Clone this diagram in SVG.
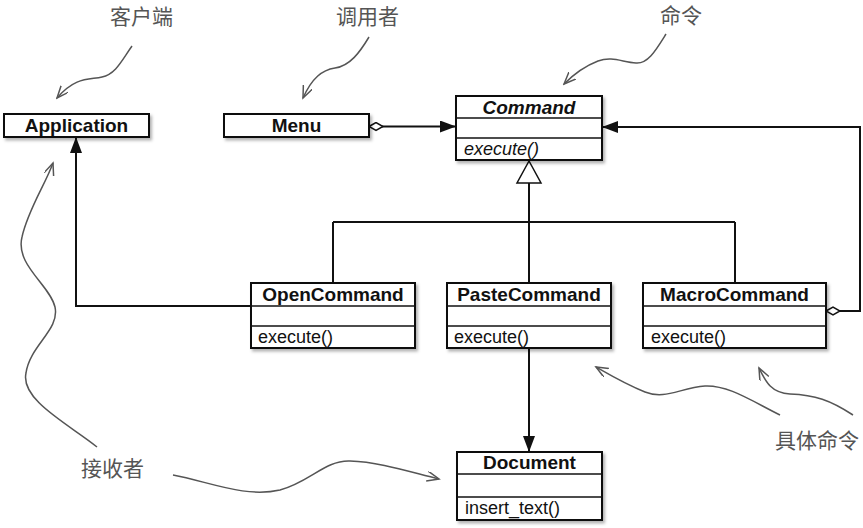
<svg xmlns="http://www.w3.org/2000/svg" width="863" height="528" viewBox="0 0 863 528">
<style>
.box{fill:#fff;stroke:#111;stroke-width:2}
.sep{stroke:#111;stroke-width:1.5}
.t{font-family:"Liberation Sans",Arial,sans-serif;font-size:19px;font-weight:bold;fill:#111;text-anchor:middle}
.ti{font-style:italic}
.op{font-family:"Liberation Sans",Arial,sans-serif;font-size:18px;fill:#111}
.opi{font-style:italic}
.conn{fill:none;stroke:#111;stroke-width:2}
.note{font-family:"Noto Sans CJK SC","Noto Sans",sans-serif;font-size:21px;fill:#555}
.sq{fill:none;stroke:#555;stroke-width:1.5;marker-end:url(#open)}
</style>
<defs>
<filter id="sh" x="-10%" y="-10%" width="130%" height="140%">
<feDropShadow dx="2" dy="2.5" stdDeviation="1.5" flood-color="#000" flood-opacity="0.3"/>
</filter>
<marker id="fill" markerUnits="userSpaceOnUse" markerWidth="18" markerHeight="14" refX="16" refY="6" orient="auto">
<path d="M0,0 L16,6 L0,12 z" fill="#111"/>
</marker>
<marker id="dia" markerUnits="userSpaceOnUse" markerWidth="16" markerHeight="10" refX="1" refY="5" orient="auto">
<path d="M1,5 L8,1 L15,5 L8,9 z" fill="#fff" stroke="#111" stroke-width="1.5"/>
</marker>
<marker id="open" markerUnits="userSpaceOnUse" markerWidth="14" markerHeight="14" refX="12" refY="5" orient="auto">
<path d="M0,0 L12,5 L0,10" fill="none" stroke="#555" stroke-width="1.5"/>
</marker>
</defs>

<g id="connectors">
<path class="conn" d="M369,126.5 L456,126.5" marker-start="url(#dia)" marker-end="url(#fill)"/>
<path class="conn" d="M826,311 L860,311 L860,127 L602,127" marker-start="url(#dia)" marker-end="url(#fill)"/>
<path class="conn" d="M251,306 L76,306 L76,137" marker-end="url(#fill)"/>
<path class="conn" d="M529,348 L529,452" marker-end="url(#fill)"/>
<path class="conn" d="M529,183 L529,222 M333,222 L735,222 M333,222 L333,283 M529,222 L529,283 M735,222 L735,283"/>
<polygon points="529,161 517,183 541,183" fill="#fff" stroke="#111" stroke-width="1.5"/>
</g>

<g id="Application">
<rect class="box" x="4" y="114" width="145" height="23" filter="url(#sh)"/>
<text class="t" x="76.5" y="132">Application</text>
</g>

<g id="Menu">
<rect class="box" x="224" y="114" width="145" height="23" filter="url(#sh)"/>
<text class="t" x="296.5" y="132">Menu</text>
</g>

<g id="Command">
<rect class="box" x="456" y="96" width="146" height="64" filter="url(#sh)"/>
<line class="sep" x1="456" y1="118" x2="602" y2="118"/>
<line class="sep" x1="456" y1="138" x2="602" y2="138"/>
<text class="t ti" x="529" y="114">Command</text>
<text class="op opi" x="464" y="155">execute()</text>
</g>

<g id="OpenCommand">
<rect class="box" x="251" y="283" width="164" height="65" filter="url(#sh)"/>
<line class="sep" x1="251" y1="306" x2="415" y2="306"/>
<line class="sep" x1="251" y1="326" x2="415" y2="326"/>
<text class="t" x="333" y="301">OpenCommand</text>
<text class="op" x="258" y="343">execute()</text>
</g>

<g id="PasteCommand">
<rect class="box" x="447" y="283" width="164" height="65" filter="url(#sh)"/>
<line class="sep" x1="447" y1="306" x2="611" y2="306"/>
<line class="sep" x1="447" y1="326" x2="611" y2="326"/>
<text class="t" x="529" y="301">PasteCommand</text>
<text class="op" x="454" y="343">execute()</text>
</g>

<g id="MacroCommand">
<rect class="box" x="643" y="283" width="183" height="65" filter="url(#sh)"/>
<line class="sep" x1="643" y1="306" x2="826" y2="306"/>
<line class="sep" x1="643" y1="326" x2="826" y2="326"/>
<text class="t" x="734.5" y="301">MacroCommand</text>
<text class="op" x="651" y="343">execute()</text>
</g>

<g id="Document">
<rect class="box" x="457" y="452" width="145" height="68" filter="url(#sh)"/>
<line class="sep" x1="457" y1="474" x2="602" y2="474"/>
<line class="sep" x1="457" y1="497" x2="602" y2="497"/>
<text class="t" x="529.5" y="469">Document</text>
<text class="op" x="465" y="514">insert_text()</text>
</g>

<g id="annotations">
<text class="note" x="110" y="24">客户端</text>
<text class="note" x="336" y="24">调用者</text>
<text class="note" x="660" y="23">命令</text>
<text class="note" x="775" y="448">具体命令</text>
<text class="note" x="81" y="476">接收者</text>
<path class="sq" d="M132,46 C122,60 116,74 102,77 C90,80 76,76 57,98"/>
<path class="sq" d="M369,37 C360,52 350,66 335,68 C322,70 312,78 303,98"/>
<path class="sq" d="M666,34 C656,50 648,64 636,63 C622,62 612,56 598,61 C585,66 572,76 564,84"/>
<path class="sq" d="M780,415 C750,400 728,385 705,386 C680,388 665,400 645,392 C625,384 610,375 596,367"/>
<path class="sq" d="M853,415 C830,400 815,395 790,394 C770,393 765,380 759,368"/>
<path class="sq" d="M173,475 C210,482 245,498 280,490 C310,482 325,460 350,461 C380,462 410,472 439,479"/>
<path class="sq" d="M97,447 C70,425 20,400 26,373 C30,345 60,330 55,307 C50,285 15,265 22,237 C28,210 45,185 53,163"/>
</g>
</svg>
